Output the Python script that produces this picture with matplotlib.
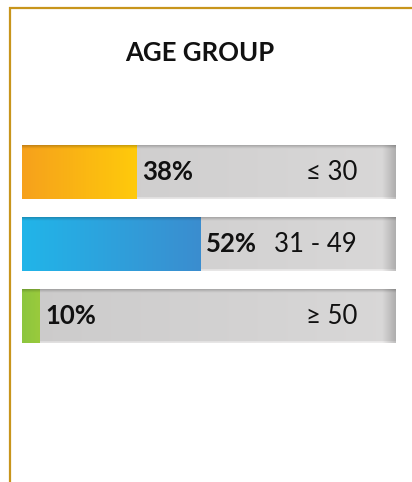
import numpy as np
import matplotlib
matplotlib.use('Agg')
import matplotlib.pyplot as plt
from matplotlib.lines import Line2D
from matplotlib.colors import to_rgb
from matplotlib.transforms import blended_transform_factory

# ---- data ----
title = "AGE GROUP"
categories = ["\u2264 30", "31 - 49", "\u2265 50"]
percents = [38, 52, 10]
pct_labels = ["38%", "52%", "10%"]
colors_left = ["#f6a11c", "#21b5e9", "#8cc63f"]
colors_right = ["#ffca0b", "#3b8dcf", "#9aca3c"]

W, H = 412, 482
fig = plt.figure(figsize=(W / 100, H / 100), dpi=100)
fig.patch.set_facecolor('white')
FONT = ['Lato', 'DejaVu Sans']


def rect(x0, y0, x1, y1):
    return [x0 / W, 1 - y1 / H, (x1 - x0) / W, (y1 - y0) / H]


# border lines
gold = '#c8951c'
fig.add_artist(Line2D([9.5 / W, 9.5 / W], [0, 1 - 7.0 / H], transform=fig.transFigure,
                      color=gold, lw=1.6, solid_capstyle='butt'))
fig.add_artist(Line2D([8.5 / W, 1], [1 - 7.8 / H, 1 - 7.8 / H], transform=fig.transFigure,
                      color=gold, lw=1.6, solid_capstyle='butt'))

fig.text(200 / W, 1 - 53 / H, title, ha='center', va='center', fontsize=18.5,
         fontweight='bold', family=FONT, color='#111111')

ax = fig.add_axes(rect(22, 136, 396, 352))
p = 1.4
ax.set_xscale('function', functions=(lambda v: np.sign(v) * np.abs(v) ** p,
                                     lambda u: np.sign(u) * np.abs(u) ** (1 / p)))
ax.set_xlim(0, 88.3)
ax.set_ylim(2.5, -0.5)
ax.axis('off')

y = np.arange(len(categories))
h = 0.74
xmax = ax.get_xlim()[1]

tracks = ax.barh(y, [xmax] * len(y), height=h, color='#d0cece', lw=0)
fills = ax.barh(y, percents, height=h, color=colors_left, lw=0)

inv = ax.transAxes.inverted()


def to_axes(xv, yv):
    return inv.transform(ax.transData.transform((xv, yv)))


ny, nx = 60, 300
t = np.linspace(0, 1, ny)
vprof = np.ones(ny)
vprof = np.where(t < 0.06, 0.80 + 0.2 * (t / 0.06), vprof)
vprof = np.where(t > 0.97, 1.10, vprof)

s = np.linspace(0, 1, nx)
hprof = 0.80 + 0.05 * s
hprof = np.where(s > 0.965, hprof - 0.16 * (s - 0.965) / 0.035, hprof)

for i in range(len(y)):
    x0a, ytop = to_axes(0, y[i] - h / 2)
    x1a, ybot = to_axes(xmax, y[i] + h / 2)
    img = np.clip(hprof[None, :, None] * vprof[:, None, None] * np.ones((1, 1, 3)), 0, 1)
    img = img * np.array([1.0, 0.995, 0.995])
    im = ax.imshow(img, extent=(x0a, x1a, ybot, ytop), transform=ax.transAxes,
                   aspect='auto', interpolation='bilinear', zorder=2)
    im.set_clip_path(tracks.patches[i])

    xe, _ = to_axes(percents[i], y[i])
    cl, cr = np.array(to_rgb(colors_left[i])), np.array(to_rgb(colors_right[i]))
    grad = cl[None, :] * (1 - s[:, None]) + cr[None, :] * s[:, None]
    fimg = np.clip(grad[None, :, :] * np.minimum(vprof, 1.0)[:, None, None], 0, 1)
    im2 = ax.imshow(fimg, extent=(x0a, xe, ybot, ytop), transform=ax.transAxes,
                    aspect='auto', interpolation='bilinear', zorder=3)
    im2.set_clip_path(fills.patches[i])

for i in range(len(y)):
    ax.annotate(pct_labels[i], xy=(percents[i], y[i]), xytext=(4, 0),
                textcoords='offset points', ha='left', va='center',
                fontsize=18.5, fontweight='bold', family=FONT, color='#111111', zorder=5)

tr = blended_transform_factory(ax.transAxes, ax.transData)
for i in range(len(y)):
    ax.text((357 - 22) / 374, y[i], categories[i], transform=tr, ha='right', va='center',
            fontsize=18.5, family=FONT, color='#111111', zorder=5)

fig.savefig('out.png', dpi=100, facecolor='white')
